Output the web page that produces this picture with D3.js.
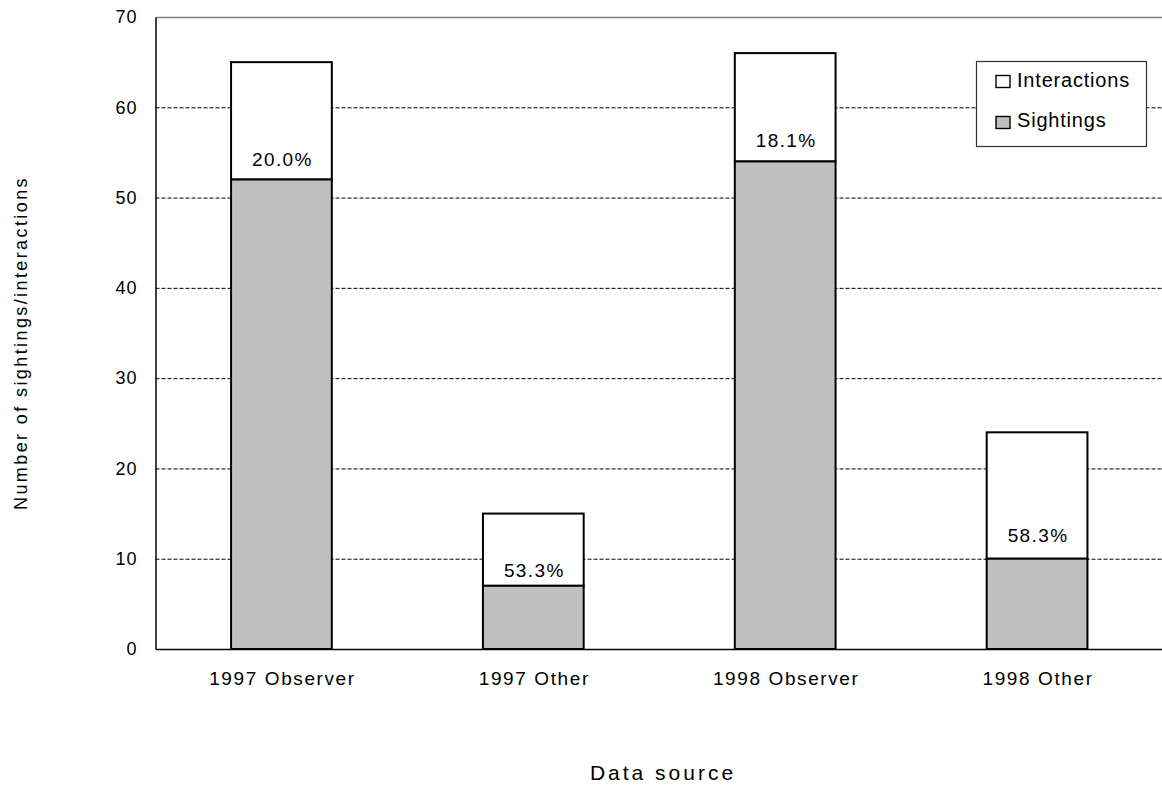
<!DOCTYPE html>
<html><head><meta charset="utf-8">
<script src="https://cdn.jsdelivr.net/npm/d3@7"></script>
<style>
body{margin:0;background:#fff;}
svg{display:block;font-family:"Liberation Sans",Arial,sans-serif;}
</style></head>
<body><svg id="c" width="1162" height="788"></svg>
<script>
const categories = ["1997 Observer", "1997 Other", "1998 Observer", "1998 Other"];
const sightings = [52, 7, 54, 10];
const totals = [65, 15, 66, 24];
const interactions = [13, 8, 12, 14];
const pctLabels = ["20.0%", "53.3%", "18.1%", "58.3%"];
const pctLabelAt = [53.5, 8.0, 55.6, 11.9];
const yTicks = [0, 10, 20, 30, 40, 50, 60, 70];
const seriesNames = ["Interactions", "Sightings"];

const svg = d3.select("#c");
const M = {l:155.5, r:1163, t:17, b:649};
const x = d3.scaleBand().domain(categories).range([M.l, M.r]).paddingInner(0.6).paddingOuter(0.3);
const y = d3.scaleLinear().domain([0, 70]).range([M.b, M.t]);

// gridlines
svg.append("g").selectAll("line").data(yTicks.filter(d => d > 0 && d < 70)).join("line")
  .attr("x1", M.l).attr("x2", M.r).attr("y1", d => y(d) + 0.5).attr("y2", d => y(d) + 0.5)
  .attr("stroke", "#000").attr("stroke-width", 1).attr("stroke-dasharray", "4,2");
// top border
svg.append("line").attr("x1", M.l).attr("x2", M.r).attr("y1", y(70) + 0.5).attr("y2", y(70) + 0.5)
  .attr("stroke", "#808080").attr("stroke-width", 1.5);

// bars
const data = categories.map((c, i) => ({c, s: sightings[i], t: sightings[i] + interactions[i]}));
const g = svg.append("g");
g.selectAll("rect.int").data(data).join("rect").attr("class", "int")
  .attr("x", d => x(d.c)).attr("width", x.bandwidth())
  .attr("y", d => y(d.t)).attr("height", d => y(d.s) - y(d.t))
  .attr("fill", "#fff").attr("stroke", "#000").attr("stroke-width", 2);
g.selectAll("rect.sig").data(data).join("rect").attr("class", "sig")
  .attr("x", d => x(d.c)).attr("width", x.bandwidth())
  .attr("y", d => y(d.s)).attr("height", d => y(0) - y(d.s))
  .attr("fill", "#c0c0c0").attr("stroke", "#000").attr("stroke-width", 2);

// percentage labels
svg.append("g").selectAll("text").data(pctLabels).join("text")
  .attr("x", (d, i) => x(categories[i]) + x.bandwidth() / 2 + 1)
  .attr("y", (d, i) => y(pctLabelAt[i]))
  .attr("text-anchor", "middle").attr("font-size", 19).attr("letter-spacing", 1.4)
  .attr("fill", "#000").text(d => d);

// axes
const ya = svg.append("g").attr("transform", `translate(${M.l},0)`)
  .call(d3.axisLeft(y).tickValues(yTicks).tickSize(0).tickPadding(18).tickFormat(d3.format("d")));
ya.select(".domain").attr("stroke", "#000").attr("stroke-width", 1.5);
ya.selectAll("text").attr("font-size", 18).attr("font-family", "Liberation Sans, Arial, sans-serif")
  .attr("letter-spacing", 1).attr("fill", "#000");

const xa = svg.append("g").attr("transform", `translate(0,${M.b})`)
  .call(d3.axisBottom(x).tickSize(0).tickPadding(0));
xa.select(".domain").attr("stroke", "#000").attr("stroke-width", 1.5);
xa.selectAll("text").attr("font-size", 19).attr("font-family", "Liberation Sans, Arial, sans-serif")
  .attr("letter-spacing", 1.6).attr("fill", "#000").attr("y", 36).attr("dy", 0).attr("dx", 1);

// axis titles
svg.append("text").attr("x", 663).attr("y", 780).attr("text-anchor", "middle")
  .attr("font-size", 21).attr("letter-spacing", 3).text("Data source");
svg.append("text").attr("transform", "translate(27,343) rotate(-90)").attr("text-anchor", "middle")
  .attr("font-size", 18).attr("letter-spacing", 2.4).text("Number of sightings/interactions");

// legend
const lg = svg.append("g");
lg.append("rect").attr("x", 976.5).attr("y", 61.5).attr("width", 170).attr("height", 85)
  .attr("fill", "#fff").attr("stroke", "#333").attr("stroke-width", 1.2);
const lfill = ["#fff", "#c0c0c0"];
lg.selectAll("rect.sw").data(seriesNames).join("rect").attr("class", "sw")
  .attr("x", 996).attr("y", (d, i) => 75.5 + i * 41).attr("width", 14).attr("height", 12)
  .attr("fill", (d, i) => lfill[i]).attr("stroke", "#000").attr("stroke-width", 1.4);
lg.selectAll("text").data(seriesNames).join("text")
  .attr("x", 1017).attr("y", (d, i) => 86.5 + i * 40.5)
  .attr("font-size", 20).attr("letter-spacing", 0.8).text(d => d);
</script></body></html>
